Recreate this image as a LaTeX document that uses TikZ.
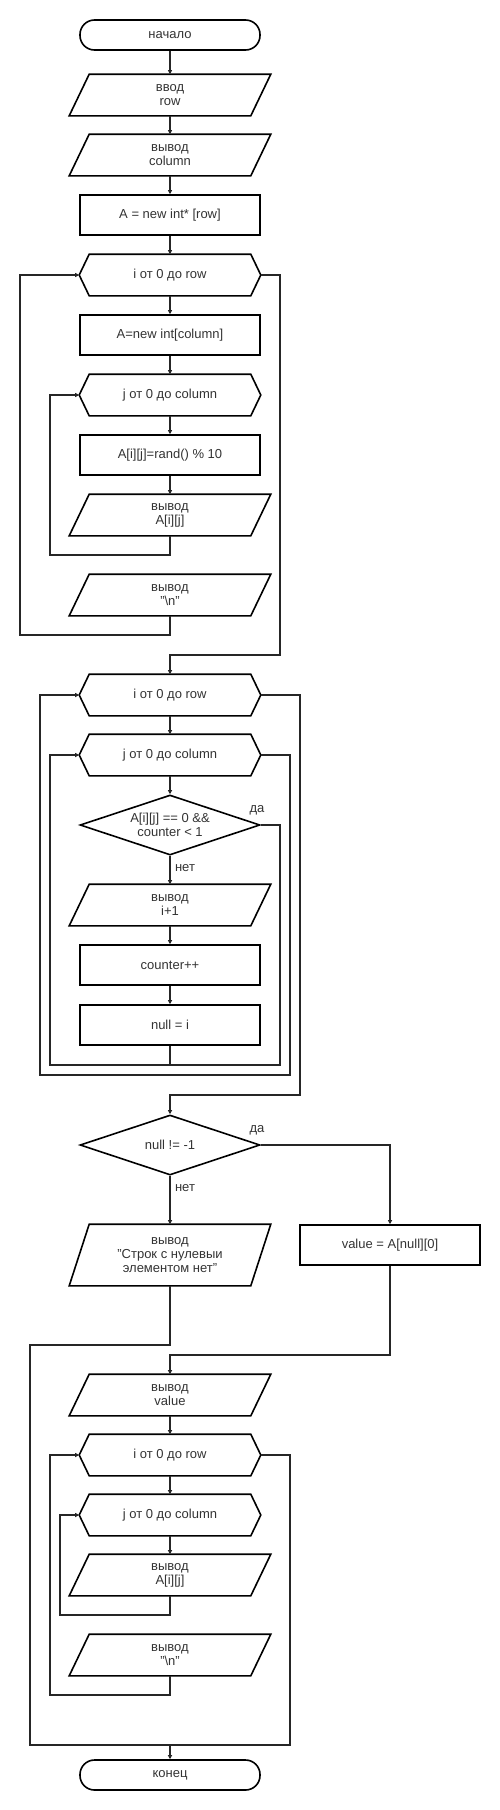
\documentclass[tikz,border=0pt]{standalone}
\usepackage{fontspec}
\setmainfont{Liberation Sans}
\usetikzlibrary{shapes.geometric, arrows.meta}

\begin{document}
\begin{tikzpicture}[x=1pt, y=-1pt,
        font=\fontsize{13}{14}\selectfont,
        every node/.style={align=center, line width=1.6pt, text=black!80},
        term/.style={draw, rectangle, rounded corners=14.5pt, minimum width=180pt, minimum height=30pt},
        proc/.style={draw, rectangle, minimum width=180pt, minimum height=40pt},
        io/.style={rectangle, minimum width=180pt, minimum height=40pt, inner sep=0pt},
        iotall/.style={io, minimum height=60pt},
        loopbox/.style={rectangle, minimum width=180pt, minimum height=40pt, inner sep=0pt},
        cond/.style={draw, diamond, aspect=3, minimum width=180pt, minimum height=60pt, inner sep=0pt},
        outline/.style={line width=1.6pt, line join=miter},
        flow/.style={line width=1.2pt, black!85},
        arr/.style={flow, -{Triangle[length=4pt, width=4pt]}},
    ]
        \useasboundingbox (0,0) rectangle (500,1810);

        \node[term]    (start)    at (170,35)   {начало};
        \node[io]      (in1)      at (170,95)   {ввод\\row};
        \node[io]      (out1)     at (170,155)  {вывод\\column};
        \node[proc]    (alloc)    at (170,215)  {A = new int* [row]};
        \node[loopbox] (fori1)    at (170,275)  {i от 0 до row};
        \node[proc]    (allocrow) at (170,335)  {A=new int[column]};
        \node[loopbox] (forj1)    at (170,395)  {j от 0 до column};
        \node[proc]    (rand)     at (170,455)  {A[i][j]=rand() \% 10};
        \node[io]      (outa1)    at (170,515)  {вывод\\A[i][j]};
        \node[io]      (outn1)    at (170,595)  {вывод\\"\textbackslash n"};

        \node[loopbox] (fori2)    at (170,695)  {i от 0 до row};
        \node[loopbox] (forj2)    at (170,755)  {j от 0 до column};
        \node[cond]    (zero)     at (170,825)  {A[i][j] == 0 \&\&\\counter < 1};
        \node[io]      (outi)     at (170,905)  {вывод\\i+1};
        \node[proc]    (cnt)      at (170,965)  {counter++};
        \node[proc]    (nul)      at (170,1025) {null = i};

        \node[cond]    (chk)      at (170,1145) {null != -1};
        \node[proc]    (val)      at (390,1245) {value = A[null][0]};
        \node[iotall]  (outnone)  at (170,1255) {вывод\\"Строк с нулевыи\\элементом нет"};
        \node[io]      (outval)   at (170,1395) {вывод\\value};
        \node[loopbox] (fori3)    at (170,1455) {i от 0 до row};
        \node[loopbox] (forj3)    at (170,1515) {j от 0 до column};
        \node[io]      (outa3)    at (170,1575) {вывод\\A[i][j]};
        \node[io]      (outn3)    at (170,1655) {вывод\\"\textbackslash n"};
        \node[term]    (stop)     at (170,1775) {конец};

        \node (yes1) at (257,810)  {да};
        \node (no1)  at (185,868)  {нет};
        \node (yes2) at (257,1130) {да};
        \node (no2)  at (185,1188) {нет};

        % outlines of loop and data boxes
        \foreach \n in {fori1,forj1,fori2,forj2,fori3,forj3}
            \draw[outline] (\n.west) -- ([xshift=10pt]\n.north west) -- ([xshift=-10pt]\n.north east)
                -- (\n.east) -- ([xshift=-10pt]\n.south east) -- ([xshift=10pt]\n.south west) -- cycle;
        \foreach \n in {in1,out1,outa1,outn1,outi,outnone,outval,outa3,outn3}
            \draw[outline] ([xshift=10pt]\n.north west) -- ([xshift=10pt]\n.north east)
                -- ([xshift=-10pt]\n.south east) -- ([xshift=-10pt]\n.south west) -- cycle;

        \coordinate (merge1) at (170,1065);
        \coordinate (merge2) at (170,1745);

        % first block
        \draw[arr] (start) -- (in1);
        \draw[arr] (in1) -- (out1);
        \draw[arr] (out1) -- (alloc);
        \draw[arr] (alloc) -- (fori1);
        \draw[arr] (fori1) -- (allocrow);
        \draw[arr] (allocrow) -- (forj1);
        \draw[arr] (forj1) -- (rand);
        \draw[arr] (rand) -- (outa1);
        \draw[arr] (outa1.south) |- (50,555) |- (forj1.west);
        \draw[arr] (outn1.south) |- (20,635) |- (fori1.west);
        \draw[arr] (fori1.east) -| (280,655) -| (fori2.north);

        % search
        \draw[arr] (fori2) -- (forj2);
        \draw[arr] (forj2) -- (zero);
        \draw[arr] (zero) -- (outi);
        \draw[arr] (outi) -- (cnt);
        \draw[arr] (cnt) -- (nul);
        \draw[flow] (nul.south) -- (merge1);
        \draw[arr] (zero.east) -| (280,1065) -- (50,1065) |- (forj2.west);
        \draw[arr] (forj2.east) -| (290,1075) -- (40,1075) |- (fori2.west);
        \draw[arr] (fori2.east) -| (300,1095) -| (chk.north);

        % result
        \draw[arr] (chk.east) -| (val.north);
        \draw[arr] (chk) -- (outnone);
        \draw[arr] (val.south) |- (170,1355) -- (outval.north);
        \draw[flow] (outnone.south) |- (30,1345) |- (merge2);

        % output
        \draw[arr] (outval) -- (fori3);
        \draw[arr] (fori3) -- (forj3);
        \draw[arr] (forj3) -- (outa3);
        \draw[arr] (outa3.south) |- (60,1615) |- (forj3.west);
        \draw[arr] (outn3.south) |- (50,1695) |- (fori3.west);
        \draw[flow] (fori3.east) -| (290,1745) -- (merge2);
        \draw[arr] (merge2) -- (stop);
\end{tikzpicture}
\end{document}
